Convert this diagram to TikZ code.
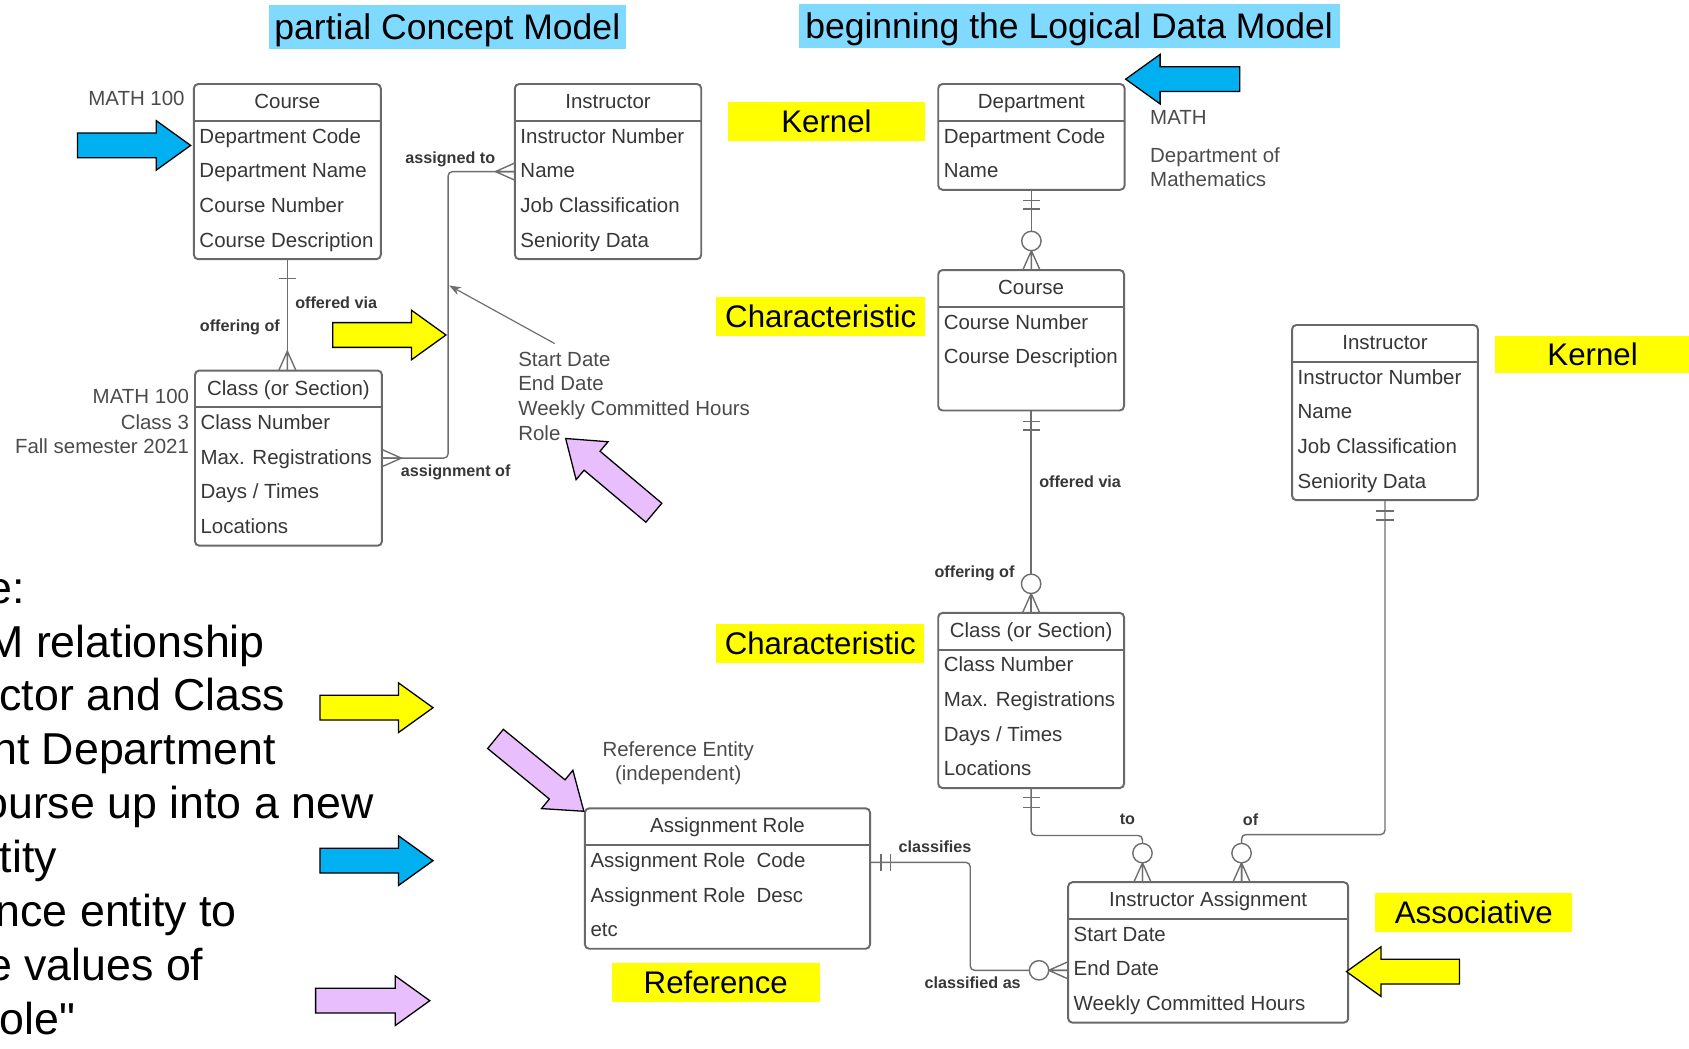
\documentclass[tikz,border=0pt]{standalone}
\usepackage{fontspec}
\setmainfont{Liberation Sans}
\usetikzlibrary{arrows.meta}
\definecolor{cyanT}{RGB}{128,217,255}
\definecolor{blueA}{RGB}{0,176,240}
\definecolor{yellowA}{RGB}{255,255,0}
\definecolor{pinkA}{RGB}{233,190,252}
\definecolor{boxgray}{RGB}{105,105,105}
\definecolor{conngray}{RGB}{110,110,110}
\definecolor{textgray}{RGB}{55,55,55}
\definecolor{notegray}{RGB}{75,75,75}
\tikzset{
  ebox/.style={draw=boxgray, line width=1.8pt, rounded corners=4pt, fill=white, inner sep=0pt, outer sep=0pt},
  eline/.style={draw=boxgray, line width=1.8pt},
  etitle/.style={font=\fontsize{19}{22}\selectfont, text=textgray, text height=13.6pt, text depth=0pt, inner sep=0pt},
  eattr/.style={etitle, anchor=west},
  conn/.style={draw=conngray, line width=1.3pt},
  rel/.style={font=\bfseries\fontsize{15}{18}\selectfont, text=textgray, inner sep=0pt, text height=10.7pt, text depth=0pt},
  note/.style={font=\fontsize{19}{22}\selectfont, text=notegray, inner sep=0pt, text height=13.6pt, text depth=0pt},
  tag/.style={fill=yellowA, font=\fontsize{29}{32}\selectfont, inner sep=0pt, text height=20.8pt, text depth=0pt},
  ttl/.style={fill=cyanT, font=\fontsize{33}{36}\selectfont, inner sep=0pt, text height=23.6pt, text depth=0pt},
  big/.style={font=\fontsize{41.5}{45}\selectfont, inner sep=0pt, anchor=base east},
  blockarr/.style={draw=black, line width=1.2pt, line join=miter}
}
\newcommand{\entity}[7]{%
  \pgfmathsetmacro{\entB}{#3+48+32.2*(#5-1)+18}%
  \pgfmathsetmacro{\entW}{#4-#2}%
  \pgfmathsetmacro{\entH}{\entB-#3}%
  \node[ebox, minimum width=\entW, minimum height=\entH, anchor=north west] (#1) at (#2,#3) {};
  \draw[eline] (#2,#3+34) -- (#4,#3+34);
  \node[etitle] (#1-t) at ({(#2+#4)/2},#3+16) {#6};
  \foreach \r [count=\i from 0] in {#7} {\node[eattr] (#1-r\i) at (#2+5,#3+48+32.2*\i) {\r};}
}
\newcommand{\crow}[2]{\begin{scope}[shift={(#1)},rotate=#2]\draw[conn] (0,8)--(18,0)--(0,-8) (0,0)--(18,0);\end{scope}}
\newcommand{\zerocirc}[2]{\begin{scope}[shift={(#1)},rotate=#2]\draw[conn,fill=white] (27,0) circle[radius=9pt];\end{scope}}
\newcommand{\tickmark}[3]{\begin{scope}[shift={(#1)},rotate=#2]\draw[conn] (#3,-8)--(#3,8);\end{scope}}
\newcommand{\blockarrow}[4]{%
  \begin{scope}[shift={(#2)},rotate=#3]
  \draw[blockarr, fill=#1] (0,-11.5) -- ({#4-32},-11.5) -- ({#4-32},-23) -- (#4,0) -- ({#4-32},23) -- ({#4-32},11.5) -- (0,11.5) -- cycle;
  \end{scope}}
\begin{document}
\begin{tikzpicture}[x=1pt,y=-1pt]
\useasboundingbox (0,0) rectangle (1568,973);

% titles
\node[ttl, minimum width=331.3, minimum height=41] (t1) at (415.3,25) {partial Concept Model};
\node[ttl, minimum width=502.2, minimum height=40.6] (t2) at (992.5,24) {beginning the Logical Data Model};

% yellow tags
\node[tag, minimum width=182.7, minimum height=36] (k1) at (767.3,112.7) {Kernel};
\node[tag, minimum width=193.7, minimum height=36] (ch1) at (761.9,294) {Characteristic};
\node[tag, minimum width=193, minimum height=36.6] (ch2) at (761.5,597.3) {Characteristic};
\node[tag, minimum width=181, minimum height=34.4] (k2) at (1478.5,328.8) {Kernel};
\node[tag, minimum width=193.5, minimum height=36] (rf) at (664.5,912) {Reference};
\node[tag, minimum width=183.2, minimum height=36] (as) at (1368.2,847) {Associative};

% entities
\entity{ccourse}{180}{78}{353.5}{4}{Course}{Department Code,Department Name,Course Number,Course Description}
\entity{cinst}{478}{78}{651}{4}{Instructor}{Instructor Number,Name,Job Classification,Seniority Data}
\entity{cclass}{181}{344}{354.6}{4}{Class (or Section)}{Class Number,Max. Registrations,Days / Times,Locations}
\entity{dept}{871}{78}{1044}{2}{Department}{Department Code,Name}
\entity{lcourse}{871}{250.7}{1043.5}{3}{Course}{Course Number,Course Description}
\entity{lclass}{871}{569}{1043.5}{4}{Class (or Section)}{Class Number,Max. Registrations,Days / Times,Locations}
\entity{linst}{1199.5}{301.7}{1372}{4}{Instructor}{Instructor Number,Name,Job Classification,Seniority Data}
\entity{ar}{543}{750.4}{807.7}{3}{Assignment Role}{Assignment Role~ Code,Assignment Role~ Desc,etc}
\entity{ia}{991.6}{819}{1251.6}{3}{Instructor Assignment}{Start Date,End Date,Weekly Committed Hours}

% concept: Course - Class
\draw[conn] (ccourse.south) -- (ccourse.south |- cclass.north);
\tickmark{ccourse.south}{-90}{18}
\crow{ccourse.south |- cclass.north}{90}
% concept: Instructor - Class
\draw[conn, rounded corners=4pt] (cinst.west) -- ++(-62,0) |- (cclass.east);
\crow{cinst.west}{180}
\crow{cclass.east}{0}
% gray pointer
\coordinate (gtail) at (515,319);
\coordinate (ghead) at (417,265);
\draw[conn, line width=1.1pt, -{Stealth[length=11pt,width=8pt]}] (gtail) -- (ghead);

% logical: Department - Course
\draw[conn] (dept.south) -- (dept.south |- lcourse.north);
\tickmark{dept.south}{-90}{10}
\tickmark{dept.south}{-90}{18}
\crow{dept.south |- lcourse.north}{90}
\zerocirc{dept.south |- lcourse.north}{90}
% Course - Class
\draw[conn] (lcourse.south) -- (lcourse.south |- lclass.north);
\tickmark{lcourse.south}{-90}{10}
\tickmark{lcourse.south}{-90}{18}
\crow{lcourse.south |- lclass.north}{90}
\zerocirc{lcourse.south |- lclass.north}{90}
% Class - Instructor Assignment
\draw[conn, rounded corners=4pt] (lclass.south) -- ++(0,44) -| ([xshift=-61pt]ia.north);
\tickmark{lclass.south}{-90}{9}
\tickmark{lclass.south}{-90}{18}
\crow{[xshift=-61pt]ia.north}{90}
\zerocirc{[xshift=-61pt]ia.north}{90}
% Instructor - Instructor Assignment
\draw[conn, rounded corners=4pt] (linst.south) -- ++(0,310.5) -| ([xshift=31pt]ia.north);
\tickmark{linst.south}{-90}{10}
\tickmark{linst.south}{-90}{18.5}
\crow{[xshift=31pt]ia.north}{90}
\zerocirc{[xshift=31pt]ia.north}{90}
% Assignment Role - Instructor Assignment
\draw[conn, rounded corners=4pt] ([yshift=15pt]ar.east) -- ++(93,0) |- ([yshift=-16.6pt]ia.west);
\tickmark{[yshift=15pt]ar.east}{0}{10}
\tickmark{[yshift=15pt]ar.east}{0}{19}
\crow{[yshift=-16.6pt]ia.west}{180}
\zerocirc{[yshift=-16.6pt]ia.west}{180}

% relationship labels
\node[rel] (l1) at (418,146) {assigned to};
\node[rel, anchor=west] (l2) at (274,281) {offered via};
\node[rel, anchor=east] (l3) at (260,302.6) {offering of};
\node[rel, anchor=west] (l4) at (372,437) {assignment of};
\node[rel, anchor=west] (l5) at (964.6,447.3) {offered via};
\node[rel, anchor=east] (l6) at (942,531) {offering of};
\node[rel] (l7) at (1046.6,760) {to};
\node[rel] (l8) at (1161,761) {of};
\node[rel, anchor=west] (l9) at (834,786) {classifies};
\node[rel] (l10) at (903,912) {classified as};

% notes
\node[note, anchor=east] (n1) at (171.6,91) {MATH 100};
\node[note, anchor=east] (n2) at (175.7,368) {MATH 100};
\node[note, anchor=east] (n3) at (175.7,391.5) {Class 3};
\node[note, anchor=east] (n4) at (175.7,414) {Fall semester 2021};
\node[note, anchor=west] (n5) at (481,333) {Start Date};
\node[note, anchor=west] (n6) at (481,356) {End Date};
\node[note, anchor=west] (n7) at (481,379) {Weekly Committed Hours};
\node[note, anchor=west] (n8) at (481,402) {Role};
\node[note, anchor=west] (n9) at (1067.6,108.8) {MATH};
\node[note, anchor=west] (n10) at (1067.6,144) {Department of};
\node[note, anchor=west] (n11) at (1067.6,166) {Mathematics};
\node[note] (n12) at (629.6,695.4) {Reference Entity};
\node[note] (n13) at (629.6,717.8) {(independent)};

% left text, cut off by the left edge as in the reference
\node[big] (b1) at (23,560) {e:};
\node[big] (b2) at (246,610) {M relationship};
\node[big] (b3) at (265,660) {ctor and Class};
\node[big] (b4) at (256,710) {nt Department};
\node[big] (b5) at (347,760) {ourse up into a new};
\node[big] (b6) at (53,810) {tity};
\node[big] (b7) at (220,860) {nce entity to};
\node[big] (b8) at (189,910) {e values of};
\node[big] (b9) at (70,960) {\addfontfeatures{Ligatures=TeXOff}ole"};

% block arrows
\blockarrow{blueA}{72,135}{0}{105}
\blockarrow{yellowA}{309,311}{0}{105}
\blockarrow{pinkA}{607,476}{139.9}{107}
\blockarrow{blueA}{1151,73.5}{180}{106}
\blockarrow{yellowA}{297,657}{0}{105}
\blockarrow{blueA}{297,799}{0}{105}
\blockarrow{pinkA}{293,929}{0}{106}
\blockarrow{pinkA}{460,686}{-39.3}{106}
\blockarrow{yellowA}{1355,902}{180}{105}
\end{tikzpicture}
\end{document}
